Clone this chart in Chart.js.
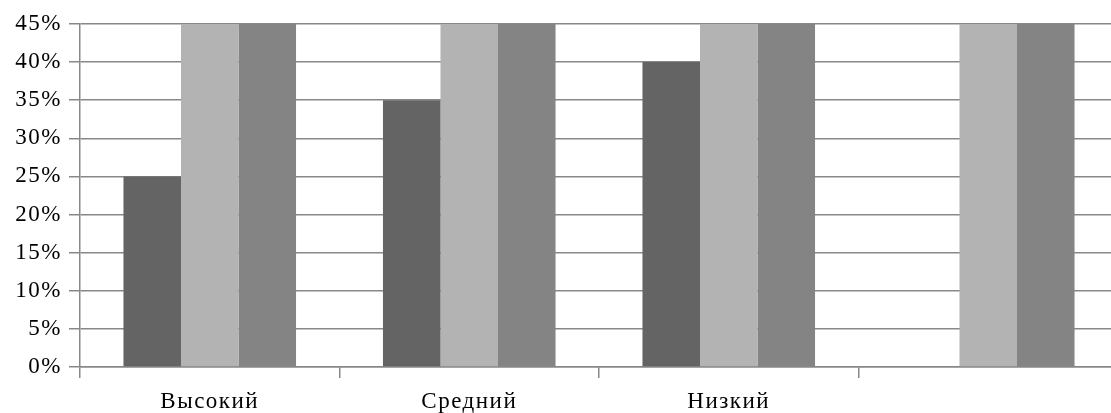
<!DOCTYPE html>
<html>
<head>
<meta charset="utf-8">
<script src="https://cdn.jsdelivr.net/npm/chart.js@4"></script>
<style>
  html, body { margin: 0; padding: 0; overflow: hidden; background: #fff; }
  #wrap { width: 1118px; height: 413px; }
</style>
</head>
<body>
<div id="wrap"><canvas id="chart"></canvas></div>
<script>
const categories = ["Высокий", "Средний", "Низкий", ""];
const seriesDark = [25, 35, 40, null];
const seriesLight = [45, 45, 45, 45];
const seriesMid = [45, 45, 45, 45];
const yTicks = [0, 5, 10, 15, 20, 25, 30, 35, 40, 45];

const gridColor = "#888888";
const font = { family: "Liberation Serif", size: 23 };

// the reference text is a bit wider than plain Times, spread the letters a little
const spacing = {
  id: "spacing",
  beforeDraw: (chart) => { chart.ctx.letterSpacing = "1.5px"; }
};

const ctx = document.getElementById("chart").getContext("2d");
new Chart(ctx, {
  type: "bar",
  data: {
    labels: categories,
    datasets: [
      { data: seriesDark, backgroundColor: "#646464" },
      { data: seriesLight, backgroundColor: "#b3b3b3" },
      { data: seriesMid, backgroundColor: "#848484" }
    ]
  },
  options: {
    responsive: true,
    maintainAspectRatio: false,
    animation: false,
    categoryPercentage: 0.665,
    barPercentage: 1,
    layout: { padding: { top: 24, right: 0, left: 0, bottom: 0 } },
    plugins: { legend: { display: false }, tooltip: { enabled: false } },
    scales: {
      x: {
        grid: { offset: true, drawOnChartArea: false, drawTicks: true, tickLength: 11, color: gridColor, lineWidth: 1.5 },
        border: { color: gridColor, width: 1.5 },
        ticks: { color: "#000", font: font, padding: 10, maxRotation: 0 },
        afterFit: (scale) => { scale.height = 46; }
      },
      y: {
        min: 0,
        max: 45,
        afterBuildTicks: (scale) => { scale.ticks = yTicks.map(v => ({ value: v })); },
        grid: { color: gridColor, tickLength: 11, lineWidth: 1.5 },
        border: { color: gridColor, width: 1.5 },
        ticks: { color: "#000", font: font, padding: 7, callback: (v) => v + "%" },
        afterFit: (scale) => { scale.width = 80; }
      }
    }
  },
  plugins: [spacing]
});
</script>
</body>
</html>
